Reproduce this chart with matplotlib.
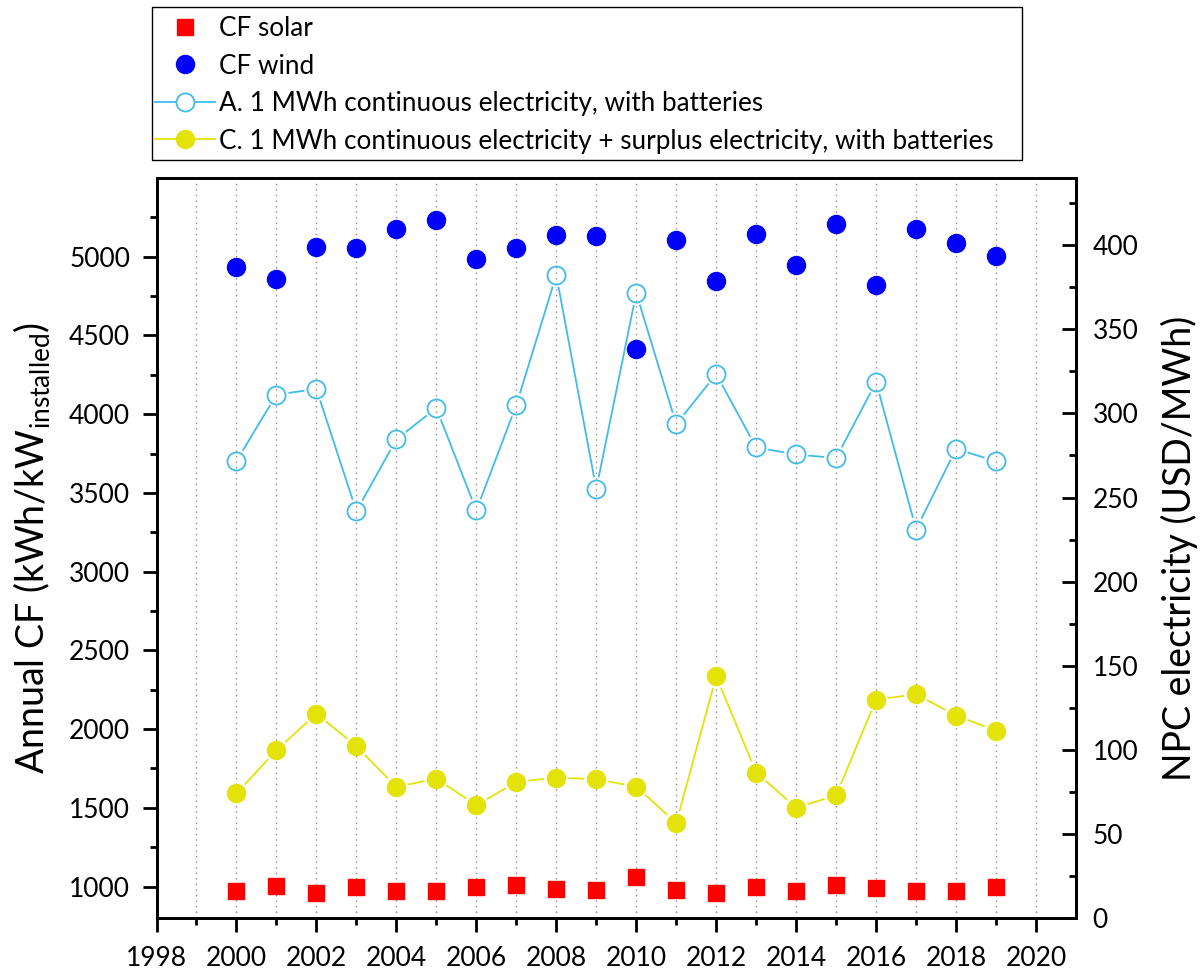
import numpy as np
import matplotlib
matplotlib.use("Agg")
import matplotlib.pyplot as plt
from matplotlib.lines import Line2D
from matplotlib.patches import Rectangle

plt.rcParams['font.family'] = ['Lato', 'DejaVu Sans']
plt.rcParams['mathtext.fontset'] = 'custom'
plt.rcParams['mathtext.rm'] = 'Lato'
plt.rcParams['mathtext.it'] = 'Lato:italic'

years = list(range(2000, 2020))

# Annual capacity factors (kWh/kW installed)
cf_solar = [971, 1003, 958, 996, 971, 971, 996, 1009, 983, 977,
            1060, 977, 958, 996, 971, 1009, 990, 971, 971, 996]
cf_wind = [4933, 4861, 5062, 5058, 5179, 5234, 4986, 5058, 5137, 5132,
           4412, 5107, 4846, 5145, 4945, 5205, 4820, 5178, 5087, 5006]

# Net present cost of electricity (USD/MWh)
npc_a = [271.7, 311.2, 314.5, 241.9, 284.6, 303.2, 242.3, 305.0, 382.3, 255.0,
         371.6, 293.6, 323.4, 279.8, 275.6, 273.5, 318.7, 231.0, 279.0, 271.5]
npc_c = [74.1, 99.7, 121.5, 102.1, 77.9, 82.9, 67.0, 80.9, 83.5, 82.5,
         78.1, 56.5, 143.6, 86.5, 65.6, 72.9, 129.9, 133.0, 120.4, 111.4]

labels = ["CF solar", "CF wind",
          "A. 1 MWh continuous electricity, with batteries",
          "C. 1 MWh continuous electricity + surplus electricity, with batteries"]

RED = "#ff0000"
BLUE = "#0000ff"
CYAN = "#41bce9"
YELLOW = "#e3e30a"

W, H = 1201, 972
fig = plt.figure(figsize=(W / 100, H / 100), dpi=100)
ax = fig.add_axes([156.5 / W, 1 - 918 / H, (1076 - 156.5) / W, (918 - 178) / H])
ax2 = ax.twinx()

ax.set_xlim(1998, 2021)
ax.set_ylim(800, 5500)
ax2.set_ylim(0, 440)

ax.set_xticks(range(1998, 2021, 2))
ax.set_xticks(range(1999, 2021, 2), minor=True)
ax.set_yticks(range(1000, 5001, 500))
ax.set_yticks(range(1250, 5500, 500), minor=True)
ax2.set_yticks(range(0, 401, 50))
ax2.set_yticks(range(25, 440, 50), minor=True)

for a in (ax, ax2):
    for s in a.spines.values():
        s.set_linewidth(2.0)
ax.tick_params(axis='both', which='major', direction='out', length=10, width=2.0,
               labelsize=19, pad=9)
ax.tick_params(axis='both', which='minor', direction='out', length=5, width=2.0)
ax.tick_params(axis='x', pad=10)
ax2.tick_params(axis='y', which='major', direction='in', length=10, width=2.0,
                labelsize=19, pad=12)
ax2.tick_params(axis='y', which='minor', direction='in', length=5, width=2.0)

# dotted vertical guide at every year
for yr in range(1999, 2021):
    ax.axvline(yr, color="#8c8c8c", lw=1.0, ls=(0, (1, 3)), zorder=0)

ax.set_ylabel(r"Annual CF (kWh/kW$_{\mathrm{installed}}$)", fontsize=27, labelpad=12)
ax2.set_ylabel("NPC electricity (USD/MWh)", fontsize=27, labelpad=16)

ax.plot(years, cf_solar, ls='none', marker='s', ms=12.2, mfc=RED, mec=RED, zorder=3)
ax.plot(years, cf_wind, ls='none', marker='o', ms=13, mfc=BLUE, mec=BLUE, zorder=3)


def gapped_line(axis, xs, ys, gap_px, **kw):
    """Join consecutive points with segments that stop short of each marker."""
    pts = axis.transData.transform(np.column_stack([xs, ys]))
    inv = axis.transData.inverted()
    for p, q in zip(pts[:-1], pts[1:]):
        d = q - p
        length = np.hypot(*d)
        if length <= 2 * gap_px:
            continue
        u = d / length
        a = inv.transform(p + u * gap_px)
        b = inv.transform(q - u * gap_px)
        axis.plot([a[0], b[0]], [a[1], b[1]], **kw)


gapped_line(ax2, years, npc_a, 13, color=CYAN, lw=1.3, zorder=2)
ax2.plot(years, npc_a, ls='none', marker='o', ms=13, mfc='none', mec=CYAN, mew=1.3, zorder=3)
gapped_line(ax2, years, npc_c, 13, color=YELLOW, lw=1.3, zorder=2)
ax2.plot(years, npc_c, ls='none', marker='o', ms=13, mfc=YELLOW, mec=YELLOW, zorder=3)

handles = [
    Line2D([], [], ls='none', marker='s', ms=12.2, mfc=RED, mec=RED),
    Line2D([], [], ls='none', marker='o', ms=13, mfc=BLUE, mec=BLUE),
    Line2D([], [], color=CYAN, lw=1.3, marker='o', ms=13, mfc='white', mec=CYAN, mew=1.3),
    Line2D([], [], color=YELLOW, lw=1.3, marker='o', ms=13, mfc=YELLOW, mec=YELLOW),
]
fig.legend(handles, labels, loc='upper left', bbox_to_anchor=(155 / W, 1 - 16 / H),
           fontsize=18.8, frameon=False, handlelength=2.3, handletextpad=0.15,
           labelspacing=0.48, borderpad=0, borderaxespad=0)

# legend border
fig.patches.append(Rectangle((152 / W, 1 - 160 / H), (1022 - 152) / W, (160 - 7) / H,
                             transform=fig.transFigure, fill=False,
                             edgecolor='black', linewidth=1.0))

fig.savefig("out.png", dpi=100)
